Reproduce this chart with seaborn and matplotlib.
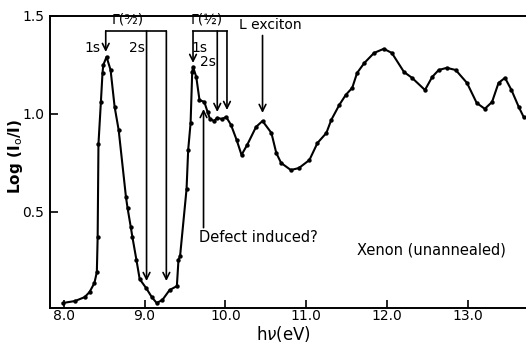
import numpy as np
import pandas as pd
import matplotlib
matplotlib.use("Agg")
import matplotlib.pyplot as plt
import seaborn as sns

# photon energy (eV) and absorbance
energy = [7.99, 8.14, 8.26, 8.32, 8.38, 8.41, 8.42, 8.43, 8.46, 8.48, 8.49, 8.53,
          8.58, 8.63, 8.68, 8.77, 8.79, 8.83, 8.85, 8.90, 8.94, 9.02, 9.09, 9.15,
          9.22, 9.31, 9.40, 9.42, 9.44, 9.52, 9.54, 9.57, 9.59, 9.60, 9.64, 9.68,
          9.74, 9.78, 9.81, 9.86, 9.90, 9.96, 10.01, 10.07, 10.14, 10.20, 10.27,
          10.38, 10.46, 10.57, 10.63, 10.69, 10.81, 10.91, 11.04, 11.14, 11.25,
          11.31, 11.41, 11.49, 11.57, 11.63, 11.72, 11.84, 11.96, 12.06, 12.21,
          12.31, 12.47, 12.56, 12.64, 12.74, 12.85, 12.99, 13.11, 13.21, 13.30,
          13.38, 13.46, 13.54, 13.63, 13.69]
log_ratio = [0.036, 0.046, 0.066, 0.092, 0.138, 0.194, 0.372, 0.847, 1.061, 1.209,
             1.25, 1.291, 1.224, 1.036, 0.918, 0.577, 0.520, 0.423, 0.372, 0.255,
             0.158, 0.112, 0.066, 0.036, 0.051, 0.102, 0.122, 0.255, 0.276, 0.617,
             0.816, 0.954, 1.214, 1.24, 1.189, 1.071, 1.061, 1.010, 0.974, 0.964,
             0.980, 0.974, 0.985, 0.944, 0.867, 0.791, 0.842, 0.934, 0.964, 0.903,
             0.801, 0.750, 0.714, 0.724, 0.765, 0.852, 0.903, 0.969, 1.046, 1.097,
             1.133, 1.209, 1.26, 1.311, 1.332, 1.311, 1.214, 1.184, 1.122, 1.189,
             1.224, 1.235, 1.224, 1.158, 1.056, 1.026, 1.061, 1.158, 1.184, 1.122,
             1.036, 0.985]

xticks = [8.0, 9.0, 10.0, 11.0, 12.0, 13.0]
yticks = [0.5, 1.0, 1.5]

# exciton markers: (x, arrow tip)
g32_arrows = [(8.52, 1.316), (9.025, 0.148), (9.27, 0.148)]
g12_arrows = [(9.60, 1.26), (9.90, 1.01), (10.02, 1.02)]
bracket_y = 1.423

df = pd.DataFrame({'E': energy, 'A': log_ratio})

plt.rcParams['font.family'] = ['DejaVu Sans']
fig = plt.figure(figsize=(5.26, 3.45), dpi=100)
ax = fig.add_axes([0.095, 0.107, 0.905, 0.847])

sns.lineplot(data=df, x='E', y='A', color='black', linewidth=1.5, ax=ax)
sns.scatterplot(data=df, x='E', y='A', color='black', s=10, linewidth=0, ax=ax)

ax.set_xlim(7.83, 13.72)
ax.set_ylim(0.01, 1.5)
ax.set_xticks(xticks)
ax.set_xticklabels([f'{t:.1f}' for t in xticks])
ax.set_yticks(yticks)
ax.set_yticklabels([f'{t:.1f}' for t in yticks])
ax.tick_params(direction='in', length=6, width=1.2, labelsize=10)
ax.tick_params(axis='x', pad=1)
ax.tick_params(axis='y', pad=4)
ax.spines['right'].set_visible(False)
for s in ['top', 'left', 'bottom']:
    ax.spines[s].set_linewidth(1.4)

ax.set_xlabel(r'h$\nu$(eV)', fontsize=12)
ax.xaxis.set_label_coords(0.49, -0.055)
ax.set_ylabel(r'Log (I$_\mathrm{o}$/I)', fontsize=11, fontweight='bold')
ax.yaxis.set_label_coords(-0.052, 0.52)

arrow = dict(arrowstyle='->', lw=1.2, color='black', mutation_scale=12,
             shrinkA=0, shrinkB=0)

# Gamma(3/2) bracket
ax.plot([g32_arrows[0][0], g32_arrows[2][0]], [bracket_y, bracket_y], color='black', lw=1.2)
for x, tip in g32_arrows:
    ax.annotate('', xy=(x, tip), xytext=(x, bracket_y), arrowprops=arrow)
ax.text(8.79, 1.48, 'Γ(³⁄₂)', fontsize=10, ha='center', va='center')
ax.text(8.36, 1.337, '1s', fontsize=10, ha='center', va='center')
ax.text(8.90, 1.337, '2s', fontsize=10, ha='center', va='center')

# Gamma(1/2) bracket
ax.plot([g12_arrows[0][0], g12_arrows[2][0]], [bracket_y, bracket_y], color='black', lw=1.2)
for x, tip in g12_arrows:
    ax.annotate('', xy=(x, tip), xytext=(x, bracket_y), arrowprops=arrow)
ax.text(9.77, 1.48, 'Γ(½)', fontsize=10, ha='center', va='center')
ax.text(9.68, 1.337, '1s', fontsize=10, ha='center', va='center')
ax.text(9.79, 1.265, '2s', fontsize=10, ha='center', va='center')

# L exciton
ax.text(10.17, 1.454, 'L exciton', fontsize=10, ha='left', va='center')
ax.annotate('', xy=(10.46, 1.005), xytext=(10.46, 1.40), arrowprops=arrow)

# defect
ax.text(9.68, 0.372, 'Defect induced?', fontsize=10.5, ha='left', va='center')
ax.annotate('', xy=(9.73, 1.025), xytext=(9.73, 0.42), arrowprops=arrow)

ax.text(11.63, 0.306, 'Xenon (unannealed)', fontsize=10.5, ha='left', va='center')

fig.savefig('out.png', dpi=100)
